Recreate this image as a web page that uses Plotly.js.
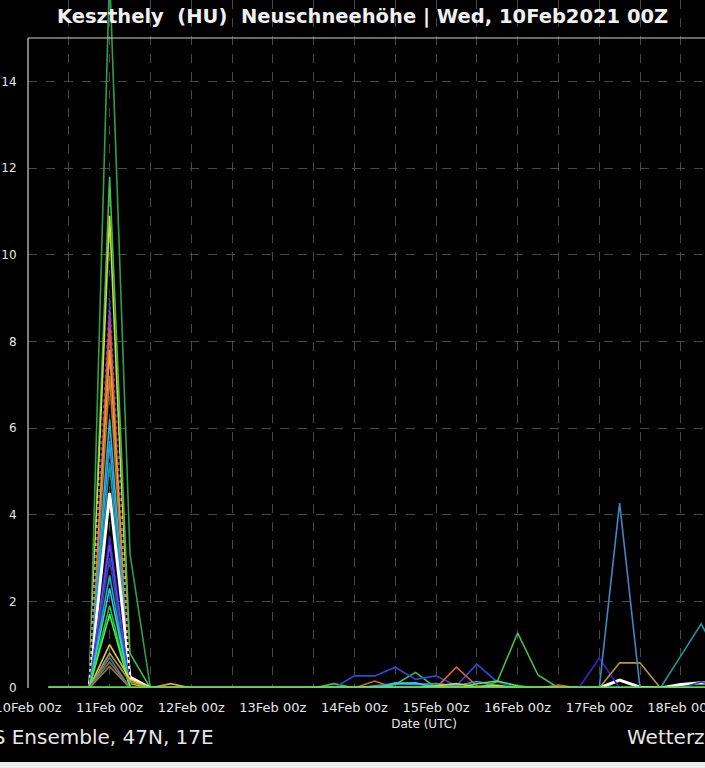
<!DOCTYPE html>
<html>
<head>
<meta charset="utf-8">
<script src="https://cdn.plot.ly/plotly-3.0.1.min.js"></script>
<style>
html,body{margin:0;padding:0;background:#ececec;overflow:hidden;width:705px;height:768px;}
#chart{width:830px;height:762px;background:#000;}
</style>
</head>
<body>
<div id="chart"></div>
<script>
// ---- time axis (6-hourly steps) ----
const times = [
 '2021-02-10 06:00','2021-02-10 12:00','2021-02-10 18:00',
 '2021-02-11 00:00','2021-02-11 06:00','2021-02-11 12:00','2021-02-11 18:00',
 '2021-02-12 00:00','2021-02-12 06:00','2021-02-12 12:00','2021-02-12 18:00',
 '2021-02-13 00:00','2021-02-13 06:00','2021-02-13 12:00','2021-02-13 18:00',
 '2021-02-14 00:00','2021-02-14 06:00','2021-02-14 12:00','2021-02-14 18:00',
 '2021-02-15 00:00','2021-02-15 06:00','2021-02-15 12:00','2021-02-15 18:00',
 '2021-02-16 00:00','2021-02-16 06:00','2021-02-16 12:00','2021-02-16 18:00',
 '2021-02-17 00:00','2021-02-17 06:00','2021-02-17 12:00','2021-02-17 18:00',
 '2021-02-18 00:00','2021-02-18 06:00','2021-02-18 12:00'
];

// ---- ensemble members: new snow height (cm) ----
const m01 = [0,0,0,16.5,3.1,0,0,0,0,0, 0,0,0,0,0,0,0,0,0,0, 0,0,0,0,0,0,0,0,0,0, 0,0,0,0];
const m02 = [0,0,0,11.8,0.8,0,0,0,0,0, 0,0,0,0,0.1,0,0,0.08,0.36,0, 0,0,0.14,1.27,0.3,0,0,0,0,0, 0,0,0,0];
const m03 = [0,0,0,10.9,0,0,0,0,0,0, 0,0,0,0,0,0,0,0,0,0, 0,0,0,0,0,0,0,0,0,0, 0,0,0,0];
const m04 = [0,0,0,9.0,0,0,0,0,0,0, 0,0,0,0,0,0.28,0.28,0.48,0.2,0.28, 0.05,0.55,0.14,0,0,0,0,0,0,0, 0,0,0,0];
const m05 = [0,0,0,8.7,0,0,0,0,0,0, 0,0,0,0,0,0,0,0,0,0, 0,0,0,0,0,0,0,0,0,0, 0,0,0,0];
const m06 = [0,0,0,8.3,0,0,0,0,0,0, 0,0,0,0,0,0,0.16,0,0,0, 0.48,0.05,0,0,0,0.07,0,0,0,0, 0,0,0,0];
const m07 = [0,0,0,7.8,0.1,0,0.1,0,0,0, 0,0,0,0,0,0,0,0,0,0, 0,0,0,0,0,0,0,0,0,0, 0,0,0,0];
const m08 = [0,0,0,7.2,0,0,0,0,0,0, 0,0,0,0,0,0,0,0,0,0, 0,0,0,0,0,0,0,0,0,0, 0,0,0,0];
const m09 = [0,0,0,6.2,0,0,0,0,0,0, 0,0,0,0,0,0,0,0.12,0.1,0.03, 0,0,0,0,0,0,0,0,0,0, 0,0,0,0];
const m10 = [0,0,0,5.7,0,0,0,0,0,0, 0,0,0,0,0,0,0.05,0.1,0.08,0.1, 0.05,0.15,0.05,0,0,0,0,0,0,0, 0,0,0,0];
const m11 = [0,0,0,5.2,0,0,0,0,0,0, 0,0,0,0,0,0,0,0,0,0, 0,0,0,0,0,0,0,0,0,0, 0,0.74,1.48,0.6];
const m12 = [0,0,0,4.5,0.25,0,0,0,0,0, 0,0,0,0,0,0,0,0,0,0, 0,0,0,0,0,0,0,0,0.18,0.02, 0,0.08,0.12,0.1];
const m13 = [0,0,0,9.5,0,0,0,0,0,0, 0,0,0,0,0,0,0,0,0,0, 0,0,0,0,0,0,0,0,0,0, 0,0,0,0];
const m14 = [0,0,0,3.5,0,0,0,0,0,0, 0,0,0,0,0,0,0,0,0,0, 0,0,0,0,0,0,0,0.69,0,0, 0,0,0,0];
const m15 = [0,0,0,3.3,0,0,0,0,0,0, 0,0,0,0,0,0,0,0,0,0, 0,0,0,0,0,0,0,0,0,0, 0,0,0,0];
const m16 = [0,0,0,3.0,0,0,0,0,0,0, 0,0,0,0,0,0,0,0,0,0, 0,0,0,0,0,0,0,0,0,0, 0,0,0.14,0];
const m17 = [0,0,0,2.6,0,0,0,0,0,0, 0,0,0,0,0,0,0,0,0,0, 0,0,0,0,0,0,0,0,0,0, 0,0,0,0];
const m18 = [0,0,0,2.3,0,0,0,0,0,0, 0,0,0,0,0,0,0,0.1,0.12,0, 0,0,0,0,0,0,0,0,0,0, 0,0,0,0];
const m19 = [0,0,0,1.9,0,0,0,0,0,0, 0,0,0,0,0,0,0,0,0,0, 0,0,0,0,0,0,0,0,0,0, 0,0,0,0];
const m20 = [0,0,0,1.7,0,0,0,0,0,0, 0,0,0,0,0,0,0,0,0,0, 0,0.1,0.16,0.05,0,0,0,0,0,0, 0,0,0,0];
const m21 = [0,0,0,1.0,0.2,0,0,0,0,0, 0,0,0,0,0,0,0,0,0,0.05, 0.1,0.03,0.06,0,0,0,0,0,0,0, 0,0,0,0];
const m22 = [0,0,0,0.8,0.15,0,0,0,0,0, 0,0,0,0,0,0,0,0,0,0, 0,0,0,0,0,0,0,0,0.58,0.58, 0,0,0,0];
const m23 = [0,0,0,0.7,0,0,0,0,0,0, 0,0,0,0,0,0,0,0,0,0, 0,0,0,0,0,0,0,0,4.27,0, 0,0,0,0];
const m24 = [0,0,0,0.6,0,0,0,0,0,0, 0,0,0,0,0,0,0,0,0,0, 0,0,0,0,0,0,0,0,0,0, 0,0,0,0];
const m25 = [0,0,0,0.5,0,0,0,0,0,0, 0,0,0,0,0,0,0,0,0,0, 0,0,0,0,0,0,0,0,0,0, 0,0,0,0];
const m26 = [0,0,0,0,0,0,0,0,0,0, 0,0,0,0,0,0,0,0,0,0, 0,0,0,0,0,0,0,0,0,0, 0,0,0,0];

const members = [m01,m02,m03,m04,m05,m06,m07,m08,m09,m10,m11,m12,m13,
                 m14,m15,m16,m17,m18,m19,m20,m21,m22,m23,m24,m25,m26];
const colors = ['#2f9f4a','#45bd4f','#c6e03c','#3048d8','#b03ca0','#e0602c','#f0a028',
                '#c87a30','#20b8d8','#3898e0','#189aa0','#ffffff','#000000',
                '#4020d0','#6848e8','#2848b0','#28a8b8','#38c8e8','#28c040','#48f048',
                '#e0d040','#b8983c','#3c88c8','#a86040','#708848','#5cd84c'];
const widths = [1.6,1.6,1.6,1.6,1.6,1.6,1.6,1.6,1.6,1.6,1.6,3,1.6,
                1.6,1.6,1.6,1.6,1.6,1.6,1.6,1.6,1.6,1.6,1.6,1.6,3.5];
const dashes = ['solid','solid','solid','solid','solid','solid','solid','solid','solid','solid','solid','solid','dot',
                'solid','solid','solid','solid','solid','solid','solid','solid','solid','solid','solid','solid','solid'];

const yTop = 15;          // visible top of the framed plot
const yExt = 15.877;      // range incl. the title band (spike drawn past the frame)

const traces = members.map((m, i) => ({
  x: times, y: m, type: 'scatter', mode: 'lines',
  line: {color: colors[i], width: widths[i], dash: dashes[i]},
  hoverinfo: 'skip', showlegend: false
}));

const grid = 'rgba(85,85,85,0.85)';
const layout = {
  width: 830, height: 762,
  margin: {l: 28, r: 10, t: 0, b: 74},
  paper_bgcolor: '#000', plot_bgcolor: '#000',
  font: {family: 'DejaVu Sans', color: '#e6e6e6', size: 12},
  showlegend: false,
  xaxis: {
    type: 'date',
    range: ['2021-02-10 00:00', '2021-02-19 16:56'],
    tick0: '2021-02-10 00:00', dtick: 86400000,
    tickformat: '%d%b %Hz',
    ticklabeloverflow: 'allow',
    showgrid: true, gridcolor: grid, griddash: 'dash', gridwidth: 1,
    minor: {dtick: 43200000, showgrid: true, gridcolor: grid, griddash: 'dash', gridwidth: 1, ticks: ''},
    zeroline: false, showline: false,
    ticks: 'outside', ticklen: 7, tickcolor: 'rgba(0,0,0,0)',
    tickfont: {size: 13, color: '#e6e6e6'},
    title: {text: 'Date (UTC)', font: {size: 12, color: '#e6e6e6'}, standoff: 6}
  },
  yaxis: {
    range: [0, yExt], tick0: 0, dtick: 2,
    showgrid: true, gridcolor: grid, griddash: 'dash', gridwidth: 1,
    zeroline: false, showline: false,
    ticks: 'outside', ticklen: 8, tickcolor: 'rgba(0,0,0,0)',
    tickfont: {size: 12, color: '#e6e6e6'}
  },
  shapes: [
    {type: 'rect', xref: 'paper', yref: 'y', x0: 0, x1: 1, y0: yTop, y1: yExt + 1,
     fillcolor: '#000', line: {width: 0}, layer: 'between'},
    {type: 'line', xref: 'paper', yref: 'y', x0: 0, x1: 1, y0: yTop, y1: yTop,
     line: {color: '#d0d0d0', width: 1.2}, layer: 'above'},
    {type: 'line', xref: 'paper', yref: 'y', x0: 0, x1: 0, y0: 0, y1: yTop,
     line: {color: '#d0d0d0', width: 1.2}, layer: 'above'}
  ],
  annotations: [
    {text: '<b>Keszthely\u00a0\u00a0(HU)\u00a0\u00a0Neuschneehöhe | Wed, 10Feb2021 00Z</b>',
     xref: 'paper', yref: 'paper', x: (362 - 28) / 792, y: (688 - 16) / 688,
     xanchor: 'center', yanchor: 'middle', showarrow: false,
     font: {size: 19.5, color: '#f0f0f0', family: 'DejaVu Sans'}},
    {text: 'GFS Ensemble, 47N, 17E',
     xref: 'paper', yref: 'paper', x: (216 - 28) / 792, y: (688 - 737) / 688,
     xanchor: 'right', yanchor: 'middle', showarrow: false,
     font: {size: 20, color: '#e6e6e6', family: 'DejaVu Sans'}},
    {text: 'Wetterzentrale',
     xref: 'paper', yref: 'paper', x: (625 - 28) / 792, y: (688 - 737) / 688,
     xanchor: 'left', yanchor: 'middle', showarrow: false,
     font: {size: 20, color: '#e6e6e6', family: 'DejaVu Sans'}}
  ]
};

Plotly.newPlot('chart', traces, layout, {displayModeBar: false, staticPlot: true});
</script>
</body>
</html>
